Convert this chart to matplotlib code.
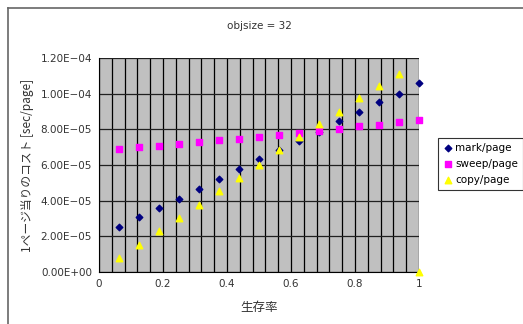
import numpy as np
import matplotlib
matplotlib.use('Agg')
import matplotlib.pyplot as plt
from matplotlib.lines import Line2D
from matplotlib.ticker import MultipleLocator, FuncFormatter

plt.rcParams['font.family'] = ['DejaVu Sans', 'Noto Sans CJK JP']
jp = ['Noto Sans CJK JP', 'DejaVu Sans']

survival = [k / 16 for k in range(1, 17)]
mark = [2.51e-5, 3.06e-5, 3.60e-5, 4.12e-5, 4.67e-5, 5.21e-5, 5.76e-5, 6.32e-5,
        6.86e-5, 7.35e-5, 7.87e-5, 8.44e-5, 8.96e-5, 9.51e-5, 9.96e-5, 1.059e-4]
sweep = [6.90e-5, 6.99e-5, 7.09e-5, 7.18e-5, 7.27e-5, 7.39e-5, 7.48e-5, 7.57e-5,
         7.67e-5, 7.82e-5, 7.91e-5, 8.01e-5, 8.18e-5, 8.27e-5, 8.40e-5, 8.51e-5]
copy = [0.80e-5, 1.52e-5, 2.29e-5, 3.02e-5, 3.75e-5, 4.54e-5, 5.25e-5, 6.00e-5,
        6.82e-5, 7.57e-5, 8.29e-5, 8.98e-5, 9.73e-5, 1.042e-4, 1.110e-4, 0.0]

fig = plt.figure(figsize=(5.23, 3.24), dpi=100)
W, H = 523, 324
ax = fig.add_axes([99 / W, 1 - 272 / H, 320 / W, 214 / H])
ax.set_facecolor('#c0c0c0')

ax.set_xlim(0, 1)
ax.set_ylim(0, 1.2e-4)
ax.xaxis.set_major_locator(MultipleLocator(0.2))
ax.xaxis.set_minor_locator(MultipleLocator(0.04))
ax.yaxis.set_major_locator(MultipleLocator(2e-5))
ax.xaxis.set_major_formatter(FuncFormatter(lambda v, p: '%g' % round(v, 2)))
ax.yaxis.set_major_formatter(FuncFormatter(lambda v, p: ('%.2E' % v).replace('-', '\u2212')))

ax.grid(True, which='both', axis='x', color='black', lw=0.9)
ax.grid(True, which='major', axis='y', color='#202020', lw=0.9)
ax.set_axisbelow(True)
ax.tick_params(which='both', length=0, labelsize=7.5, colors='#333333', pad=5)

for s in ['top', 'right']:
    ax.spines[s].set_visible(False)
ax.spines['left'].set_color('black')
ax.spines['bottom'].set_color('black')

ax.scatter(survival, mark, marker='D', s=11, color='#000080', label='mark/page', zorder=3, clip_on=False)
ax.scatter(survival, sweep, marker='s', s=18, color='#ff00ff', label='sweep/page', zorder=3, clip_on=False)
ax.scatter(survival, copy, marker='^', s=22, color='#ffff00', label='copy/page', zorder=3, clip_on=False)

ax.set_title('objsize = 32', fontsize=7.5, color='#333333', pad=21)
ax.set_xlabel('生存率', fontsize=9, color='#333333', labelpad=9, family=jp)
ax.set_ylabel('1ページ当りのコスト [sec/page]', fontsize=8.5, color='#333333', labelpad=5, family=jp)

leg = fig.legend(loc='upper left', bbox_to_anchor=(438 / W, 1 - 138 / H),
                 fontsize=7.5, frameon=True, fancybox=False, borderpad=0.45,
                 handletextpad=0.2, handlelength=1.0, labelspacing=0.6,
                 borderaxespad=0)
leg.get_frame().set_edgecolor('black')
leg.get_frame().set_linewidth(0.8)

# chart area border (left and top edges)
fig.add_artist(Line2D([7.5 / W, 7.5 / W], [0, 1 - 7.5 / H], color='#666666', lw=1.2))
fig.add_artist(Line2D([7.5 / W, 1], [1 - 7.5 / H, 1 - 7.5 / H], color='#666666', lw=1.2))

fig.savefig('out.png', dpi=100)
